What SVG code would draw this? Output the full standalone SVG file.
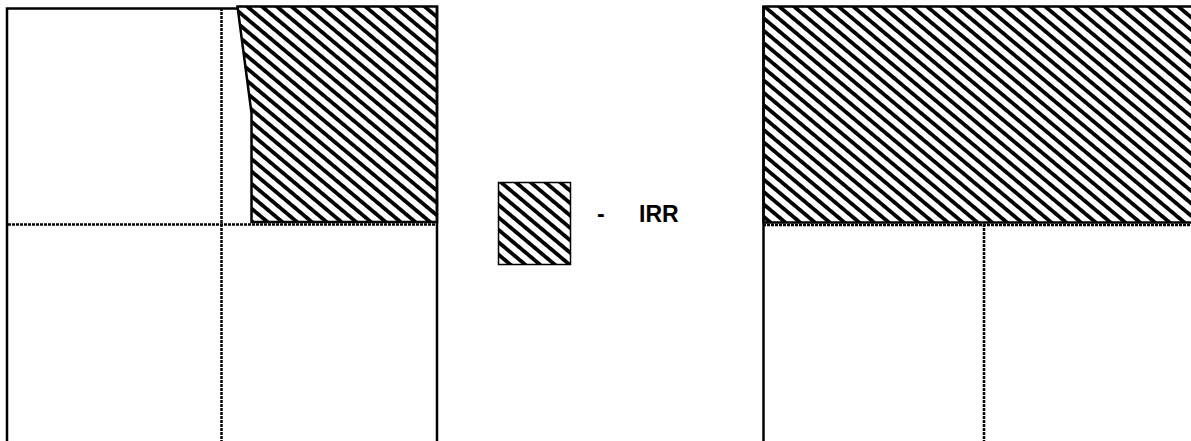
<svg xmlns="http://www.w3.org/2000/svg" width="1191" height="441" viewBox="0 0 1191 441">
<style>
.solid{stroke:#000;stroke-width:2.5;fill:none}
.dot{stroke:#000;stroke-width:2.5;fill:none;stroke-dasharray:3 1}
.hatch{fill:url(#hatch);stroke:#000;stroke-width:2.5}
.lbl{font-family:"Liberation Sans",Arial,sans-serif;font-weight:bold;font-size:23px;fill:#000}
</style>
<defs>
<pattern id="hatch" patternUnits="userSpaceOnUse" width="9.5" height="10" patternTransform="rotate(-50)">
<rect x="0" y="0" width="9.5" height="10" fill="#fff"/>
<rect x="0" y="0" width="3.8" height="10" fill="#000"/>
</pattern>
</defs>
<rect x="0" y="0" width="1191" height="441" fill="#fff"/>
<g id="left-panel">
<path class="dot" d="M221.5,8 V441"/>
<path class="dot" d="M8,224.5 H437"/>
<path class="solid" d="M7,441 V8.5 H238"/>
<polygon class="hatch" points="237.5,6.5 437,6.5 437,222 251.5,222 251.5,113"/>
<path class="solid" d="M437,6 V441" stroke-width="3"/>
</g>
<g id="legend">
<rect x="498.5" y="182.5" width="72" height="82" fill="url(#hatch)" stroke="#000" stroke-width="1.5"/>
<text class="lbl" x="597" y="222">-</text>
<text class="lbl" x="639" y="222">IRR</text>
</g>
<g id="right-panel">
<path class="dot" d="M984,224 V441"/>
<path class="dot" d="M763,225 H1191"/>
<rect class="hatch" x="763.5" y="6.5" width="430" height="216"/>
<path class="solid" d="M763.5,6 V441"/>
</g>
<g id="connectors"></g>
</svg>
